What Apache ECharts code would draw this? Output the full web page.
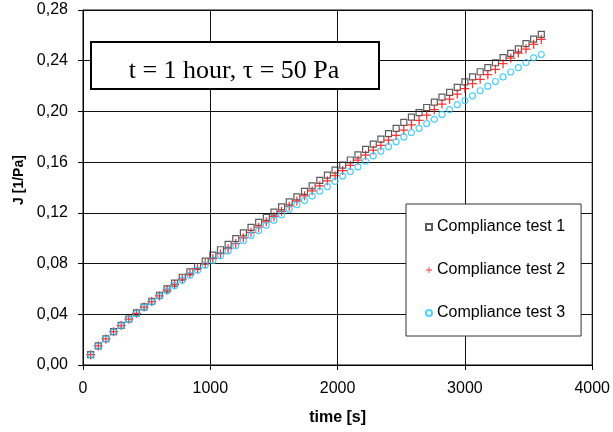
<!DOCTYPE html>
<html>
<head>
<meta charset="utf-8">
<script src="https://cdn.jsdelivr.net/npm/echarts@6.0.0/dist/echarts.min.js"></script>
<style>
  html, body { margin: 0; padding: 0; background: #fff; }
  #chart { width: 613px; height: 432px; }
</style>
</head>
<body>
<div id="chart"></div>
<script>
// Creep compliance J(t) for three repeated tests, sampled once a minute
const timeS = [
  60, 120, 180, 240, 300, 360, 420, 480, 540, 600,
  660, 720, 780, 840, 900, 960, 1020, 1080, 1140, 1200,
  1260, 1320, 1380, 1440, 1500, 1560, 1620, 1680, 1740, 1800,
  1860, 1920, 1980, 2040, 2100, 2160, 2220, 2280, 2340, 2400,
  2460, 2520, 2580, 2640, 2700, 2760, 2820, 2880, 2940, 3000,
  3060, 3120, 3180, 3240, 3300, 3360, 3420, 3480, 3540, 3600
];

const test1 = [
  0.0082, 0.0151, 0.0207, 0.0264, 0.0313, 0.0363, 0.0411, 0.0459, 0.0503, 0.0550,
  0.0600, 0.0646, 0.0692, 0.0735, 0.0777, 0.0820, 0.0866, 0.0909, 0.0951, 0.0996,
  0.1042, 0.1086, 0.1125, 0.1164, 0.1205, 0.1247, 0.1287, 0.1326, 0.1370, 0.1413,
  0.1456, 0.1497, 0.1537, 0.1577, 0.1617, 0.1658, 0.1701, 0.1742, 0.1782, 0.1825,
  0.1866, 0.1914, 0.1955, 0.1991, 0.2031, 0.2074, 0.2113, 0.2150, 0.2190, 0.2233,
  0.2272, 0.2313, 0.2345, 0.2384, 0.2424, 0.2458, 0.2494, 0.2535, 0.2570, 0.2607
];

const test2 = [
  0.0081, 0.0150, 0.0206, 0.0263, 0.0311, 0.0361, 0.0408, 0.0457, 0.0500, 0.0545,
  0.0591, 0.0635, 0.0678, 0.0719, 0.0760, 0.0800, 0.0840, 0.0878, 0.0917, 0.0958,
  0.1003, 0.1047, 0.1087, 0.1129, 0.1170, 0.1212, 0.1253, 0.1293, 0.1334, 0.1374,
  0.1413, 0.1453, 0.1493, 0.1534, 0.1575, 0.1615, 0.1655, 0.1694, 0.1732, 0.1773,
  0.1811, 0.1852, 0.1893, 0.1930, 0.1970, 0.2014, 0.2058, 0.2097, 0.2137, 0.2180,
  0.2219, 0.2253, 0.2290, 0.2332, 0.2377, 0.2420, 0.2460, 0.2492, 0.2529, 0.2568
];

const test3 = [
  0.0081, 0.0150, 0.0205, 0.0262, 0.0310, 0.0360, 0.0407, 0.0455, 0.0497, 0.0542,
  0.0584, 0.0626, 0.0668, 0.0708, 0.0748, 0.0786, 0.0825, 0.0862, 0.0900, 0.0940,
  0.0980, 0.1022, 0.1060, 0.1102, 0.1142, 0.1186, 0.1228, 0.1264, 0.1297, 0.1332,
  0.1371, 0.1407, 0.1448, 0.1490, 0.1526, 0.1563, 0.1607, 0.1649, 0.1687, 0.1722,
  0.1760, 0.1799, 0.1834, 0.1867, 0.1904, 0.1938, 0.1976, 0.2015, 0.2053, 0.2086,
  0.2123, 0.2163, 0.2199, 0.2236, 0.2272, 0.2311, 0.2346, 0.2386, 0.2423, 0.2449
];

const seriesNames = ['Compliance test 1', 'Compliance test 2', 'Compliance test 3'];
const xTitle = 'time [s]';
const yTitle = 'J [1/Pa]';
const boxTitle = 't = 1 hour, \u03c4 = 50 Pa';

const pairs = (ys) => timeS.map((t, i) => [t, ys[i]]);
const SANS = '"Liberation Sans", Arial, sans-serif';
const PLUS = 'path://M-0.14,-1H0.14V-0.14H1V0.14H0.14V1H-0.14V0.14H-1V-0.14H-0.14Z';

const chart = echarts.init(document.getElementById('chart'), null, { renderer: 'canvas' });

chart.setOption({
  animation: false,
  backgroundColor: '#fff',
  textStyle: { fontFamily: SANS },
  grid: {
    left: 83, right: 18, top: 10, bottom: 67,
    show: true, borderColor: '#000', borderWidth: 1, backgroundColor: 'transparent'
  },
  xAxis: {
    type: 'value', min: 0, max: 4000, interval: 1000,
    name: xTitle, nameLocation: 'middle', nameGap: 45,
    nameTextStyle: { fontFamily: SANS, fontSize: 16, fontWeight: 'bold', color: '#000' },
    axisLine: { show: true, onZero: false, lineStyle: { color: '#000', width: 1 } },
    axisTick: { show: true, inside: false, length: 5, lineStyle: { color: '#000' } },
    axisLabel: { fontFamily: SANS, fontSize: 16, color: '#000', margin: 16, formatter: (v) => String(v) },
    splitLine: { show: true, lineStyle: { color: '#111', width: 1 } }
  },
  yAxis: {
    type: 'value', min: 0, max: 0.28, interval: 0.04,
    name: yTitle, nameLocation: 'middle', nameGap: 56, nameRotate: 90,
    nameTextStyle: { fontFamily: SANS, fontSize: 14, fontWeight: 'bold', color: '#000', padding: [0, 0, 0, 15] },
    axisLine: { show: true, onZero: false, lineStyle: { color: '#000', width: 1 } },
    axisTick: { show: true, inside: false, length: 5, lineStyle: { color: '#000' } },
    axisLabel: {
      fontFamily: SANS, fontSize: 16, color: '#000', margin: 15,
      formatter: (v) => v.toFixed(2).replace('.', ',')
    },
    splitLine: { show: true, lineStyle: { color: '#111', width: 1 } }
  },
  legend: {
    orient: 'vertical', left: 406, top: 204,
    padding: [15, 16, 15, 19],
    itemGap: 27, itemWidth: 6, itemHeight: 6,
    borderColor: '#333', borderWidth: 1, backgroundColor: '#fff',
    textStyle: { fontFamily: SANS, fontSize: 16, color: '#000', lineHeight: 16 },
    data: seriesNames
  },
  graphic: [
    {
      type: 'rect', z: 50,
      shape: { x: 91, y: 42, width: 288, height: 47 },
      style: { fill: '#fff', stroke: '#000', lineWidth: 2 }
    },
    {
      type: 'text', z: 51, x: 234, y: 71,
      style: {
        text: boxTitle, fill: '#000',
        font: '26px "Liberation Serif", "Times New Roman", serif',
        align: 'center', verticalAlign: 'middle'
      }
    }
  ],
  series: [
    {
      name: seriesNames[0], type: 'scatter', data: pairs(test1),
      symbol: 'rect', symbolSize: 6,
      itemStyle: { color: 'rgba(255,255,255,0)', borderColor: '#333', borderWidth: 1.2 }
    },
    {
      name: seriesNames[1], type: 'scatter', data: pairs(test2),
      symbol: PLUS, symbolSize: 9,
      itemStyle: { color: '#ff0000' }
    },
    {
      name: seriesNames[2], type: 'scatter', data: pairs(test3),
      symbol: 'circle', symbolSize: 6,
      itemStyle: { color: 'rgba(255,255,255,0)', borderColor: '#22c4ff', borderWidth: 1.2 }
    }
  ]
});
</script>
</body>
</html>
